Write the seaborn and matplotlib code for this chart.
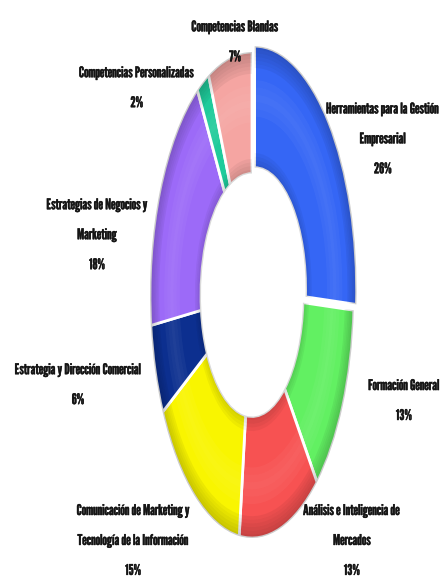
import matplotlib
matplotlib.use("Agg")
import matplotlib.pyplot as plt
import matplotlib.patheffects as pe
import seaborn as sns
from matplotlib import font_manager

categories = [
    "Herramientas para la Gestión\nEmpresarial",
    "Formación General",
    "Análisis e Inteligencia de\nMercados",
    "Comunicación de Marketing y\nTecnología de la Información",
    "Estrategia y Dirección Comercial",
    "Estrategias de Negocios y\nMarketing",
    "Competencias Personalizadas",
    "Competencias Blandas",
]
shares = [26, 13, 13, 15, 6, 18, 2, 7]
colors = ["#3566f5", "#62f062", "#f75252", "#f9f500", "#0c2f8f",
          "#9c6af8", "#1fcb9b", "#f5a5a2"]

# label anchor points (figure fractions) for each category
label_pos = [
    (0.868, 0.763), (0.916, 0.318), (0.798, 0.080), (0.302, 0.080),
    (0.177, 0.345), (0.220, 0.600), (0.310, 0.850), (0.533, 0.928),
]

sns.set_theme(style="white")
names = {f.name for f in font_manager.fontManager.ttflist}
preferred = ["League Gothic", "Pathway Gothic One", "Saira Extra Condensed",
             "Antonio", "Oswald", "Barlow Condensed", "Liberation Sans Narrow"]
chosen = next((n for n in preferred if n in names), "DejaVu Sans")
plt.rcParams["font.family"] = [chosen, "DejaVu Sans"]

fig = plt.figure(figsize=(4.41, 5.88), dpi=100)
ax = fig.add_axes([0, 0, 1, 1])

explode = [0.035, 0, 0, 0, 0, 0, 0, 0]
ring = dict(startangle=90, counterclock=False, explode=explode)
ax.pie(shares, colors=colors, radius=1.0,
       wedgeprops=dict(width=0.5, edgecolor="white", linewidth=2.0), **ring)

# bevel shading built from thin graded bands
clear = ["none"] * len(shares)
def band(r, w, rgba):
    ax.pie(shares, colors=clear, radius=r,
           wedgeprops=dict(width=w, edgecolor="none", facecolor=rgba), **ring)

for i in range(6):           # dark outer rim
    band(1.0 - i * 0.015, 0.015, (0, 0, 0, 0.20 - i * 0.03))
for i in range(4):           # dark inner rim
    band(0.50 + (i + 1) * 0.015, 0.015, (0, 0, 0, 0.15 - i * 0.035))
for i in range(5):           # soft highlight in the middle of the ring
    band(0.86 - i * 0.03, 0.03, (1, 1, 1, 0.04 + 0.02 * min(i, 4 - i)))

# stretched canvas: centre at (252, 295) px, radii 102 px by 243 px
W, H = 441, 588
cx, cy, rx, ry = 252, 295, 102, 243
ax.set_xlim(-cx / rx, (W - cx) / rx)
ax.set_ylim(-(H - cy) / ry, cy / ry)
ax.set_aspect("auto")
ax.axis("off")

# size the condensed face so the widest Herramientas line spans ~113 px
renderer = fig.canvas.get_renderer()
probe = fig.text(0, 0, "Herramientas para la Gestión", fontsize=10)
w = probe.get_window_extent(renderer).width
probe.remove()
fsize = min(13.0, 10 * 113 / w)

heavy = [pe.withStroke(linewidth=0.3, foreground="#151515")]
for name, val, (x, y) in zip(categories, shares, label_pos):
    fig.text(x, y, f"{name}\n{val}%", ha="center", va="center",
             fontsize=fsize, linespacing=2.45, color="#151515",
             path_effects=heavy)

fig.savefig("out.png", dpi=100)
